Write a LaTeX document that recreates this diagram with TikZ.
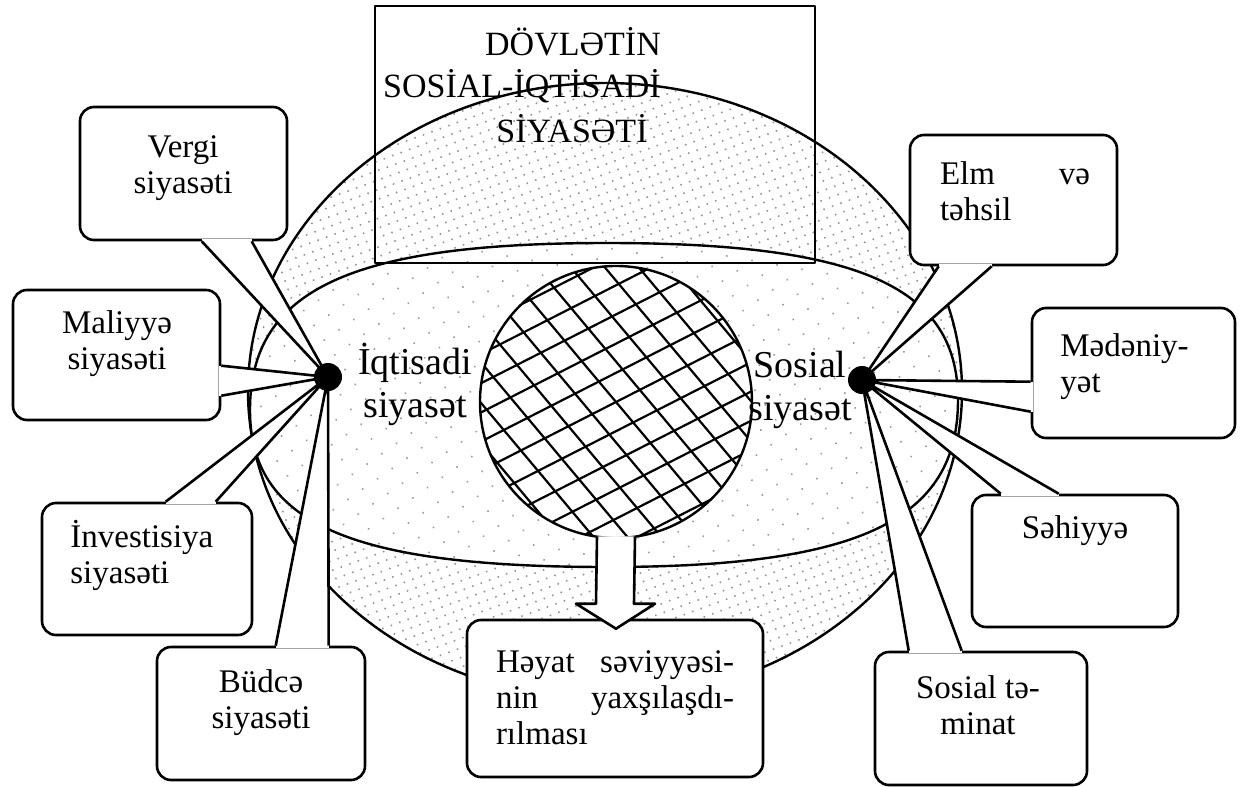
\documentclass[tikz,border=0pt]{standalone}
\usepackage{fontspec}
\setmainfont{Liberation Serif}
\usetikzlibrary{patterns.meta,calc}
\newcommand{\calloutwedge}[3]{%
  \draw[white, line width=2.4pt] #1 -- #2;
  \draw[wedgeline] #1 -- #3 -- #2;
}
\begin{document}
\begin{tikzpicture}[x=0.5pt,y=-0.5pt,
  line join=round,
  cbox/.style={draw, line width=1.3pt, fill=white, rounded corners=7pt, inner sep=0pt},
  ctext/.style={font=\fontsize{16.5pt}{18pt}\selectfont, align=center, inner sep=0pt},
  wedgeline/.style={draw, line width=1.3pt, fill=white},
  bigdot/.style={circle, fill=black, minimum size=14pt, inner sep=0pt},
  lbl/.style={font=\fontsize{19pt}{21.5pt}\selectfont, align=center, inner sep=0pt},
  ttl/.style={font=\fontsize{17pt}{21pt}\selectfont, inner sep=0pt, anchor=base},
  hatchline/.style={line width=1.1pt},
  shapeline/.style={line width=1.2pt},
]
\useasboundingbox (0,0) rectangle (1243,787);

% outer ellipse, densely dotted
\draw[shapeline, pattern={Dots[distance=4.5pt,radius=0.55pt,angle=20]}, pattern color=black!42]
  (605,391) ellipse [x radius=357, y radius=308];

% inner flattened oval, sparsely dotted
\draw[shapeline, preaction={fill=white}, pattern={Dots[distance=9pt,radius=0.55pt,angle=35]}, pattern color=black!40]
  (250,410) .. controls (250,290) and (350,243) .. (607,243)
  .. controls (860,243) and (958,287) .. (958,400)
  .. controls (958,520) and (860,567) .. (607,567)
  .. controls (350,567) and (250,523) .. (250,410) -- cycle;

% cross-hatched circle
\node[circle, fill=white, minimum size=136pt, inner sep=0pt] (hz) at (616,402) {};
\begin{scope}
  \clip (616,402) circle [radius=136];
  \begin{scope}[shift={(616,402)}, rotate=27]
    \foreach \k in {-6,...,6} \draw[hatchline] (-170,\k*26) -- (170,\k*26);
  \end{scope}
  \begin{scope}[shift={(616,402)}, rotate=-50]
    \foreach \k in {-6,...,6} \draw[hatchline] (-170,\k*26) -- (170,\k*26);
  \end{scope}
\end{scope}
\draw[shapeline] (hz.center) circle [radius=136];

% labels of the two policies
\node[lbl] (iq) at (415,384) {İqtisadi\\siyasət};
\node[lbl] (so) at (800,390) {Sosial\\siyasət};

% title box
\node[draw, line width=1.3pt, minimum width=220pt, minimum height=128.5pt, inner sep=0pt] (title) at (595,134.5) {};
\node[ttl] (t1) at (573,55) {DÖVLƏTİN};
\node[ttl] (t2) at (522,97) {SOSİAL-İQTİSADİ};
\node[ttl] (t3) at (572,142) {SİYASƏTİ};

% hub dots (positions)
\coordinate (Lc) at (328,377);
\coordinate (Rc) at (862,380);

% left callouts
\node[cbox, minimum width=103.5pt, minimum height=66.5pt] (vergi) at (183.5,173.5) {};
\node[cbox, minimum width=103.5pt, minimum height=65pt] (maliyye) at (116.5,355) {};
\node[cbox, minimum width=105pt, minimum height=66pt] (invest) at (147,569) {};
\node[cbox, minimum width=104pt, minimum height=66.5pt] (budce) at (261,713.5) {};
% right callouts
\node[cbox, minimum width=103.5pt, minimum height=65pt] (elm) at (1013.5,200) {};
\node[cbox, minimum width=101.5pt, minimum height=65pt] (med) at (1133.5,373) {};
\node[cbox, minimum width=103pt, minimum height=66pt] (seh) at (1075,561) {};
\node[cbox, minimum width=106pt, minimum height=66.5pt] (sos) at (981,718.5) {};

\calloutwedge{($(vergi.south west)+(123,0)$)}{($(vergi.south west)+(173,0)$)}{(Lc)}
\calloutwedge{($(maliyye.north east)+(0,77)$)}{($(maliyye.north east)+(0,107)$)}{(Lc)}
\calloutwedge{($(invest.north west)+(125,0)$)}{($(invest.north west)+(175,0)$)}{(Lc)}
\calloutwedge{($(budce.north west)+(120,0)$)}{($(budce.north west)+(173,0)$)}{(Lc)}
\calloutwedge{($(elm.south west)+(30,0)$)}{($(elm.south west)+(83,0)$)}{(Rc)}
\calloutwedge{($(med.north west)+(0,75)$)}{($(med.north west)+(0,105)$)}{(Rc)}
\calloutwedge{($(seh.north west)+(30,0)$)}{($(seh.north west)+(88,0)$)}{(Rc)}
\calloutwedge{($(sos.north west)+(35,0)$)}{($(sos.north west)+(88,0)$)}{(Rc)}

\node[bigdot] (L) at (Lc) {};
\node[bigdot] (R) at (Rc) {};

% callout texts
\node[ctext] (vergiT) at (183,168) {Vergi\\siyasəti};
\node[ctext] (maliyyeT) at (117,344) {Maliyyə\\siyasəti};
\node[ctext, align=left, anchor=west] (investT) at (70,555) {İnvestisiya\\siyasəti};
\node[ctext] (budceT) at (261,703) {Büdcə\\siyasəti};
\node[ctext, align=left, text width=75pt] (elmT) at (1015,191) {Elm\hfill və\\təhsil};
\node[ctext, align=left, anchor=west] (medT) at (1060,367) {Mədəniy-\\yət};
\node[ctext] (sehT) at (1075,531) {Səhiyyə};
\node[ctext] (sosT) at (978,705) {Sosial tə-\\minat};

% bottom result box
\node[cbox, minimum width=148pt, minimum height=78.5pt] (hb) at (615,698.5) {};
\node[ctext, align=left, text width=119pt] (hbT) at (615,698) {Həyat\hfill səviyyəsi-\\nin\hfill yaxşılaşdı-\\rılması};

% block arrow from the circle to the result box
\draw[line width=1.3pt, fill=white]
  ($(hz.south)+(-19,-2)$) -- ($(hb.north)+(-19,-15)$) -- ($(hb.north)+(-39,-15)$)
  -- ($(hb.north)+(1,10)$) -- ($(hb.north)+(40,-15)$) -- ($(hb.north)+(19,-15)$)
  -- ($(hz.south)+(19,-2)$);
\end{tikzpicture}
\end{document}
